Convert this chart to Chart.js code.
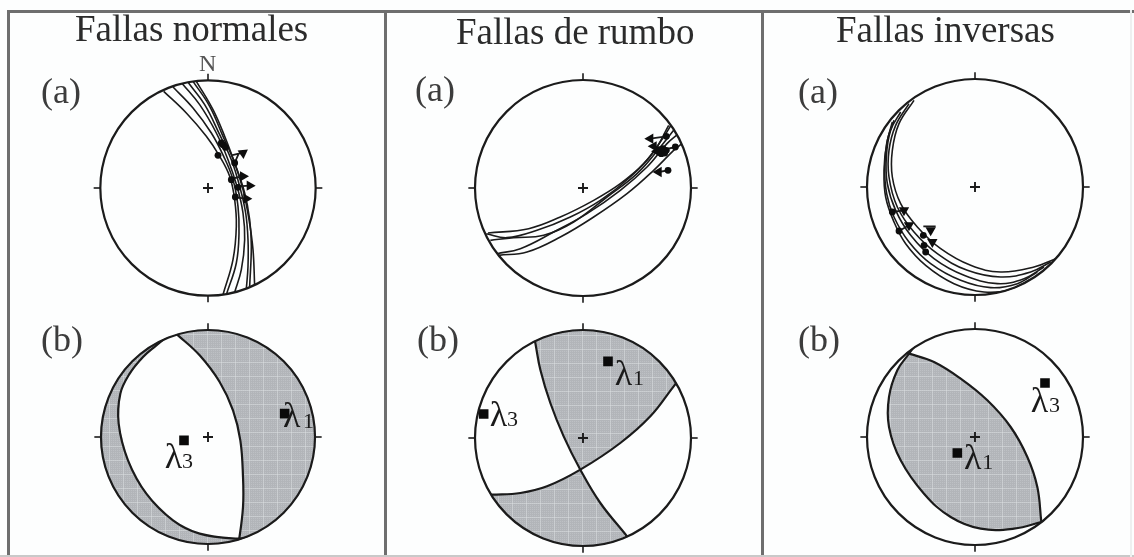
<!DOCTYPE html>
<html lang="es">
<head>
<meta charset="utf-8">
<title>Fallas</title>
<script src="https://cdn.jsdelivr.net/npm/chart.js@4"></script>
<style>
html,body{margin:0;padding:0;background:#fdfefe;overflow:hidden}
#fig{position:relative;width:1134px;height:557px;filter:blur(.45px);font-family:"Liberation Serif",serif;color:#2b2b2b;overflow:hidden}
#fig canvas{position:absolute}
.f{position:absolute;background:#6e6e6e}
.t{position:absolute;white-space:nowrap;line-height:1;transform:translateY(-.891em)}
</style>
</head>
<body>
<div id="fig"></div>
<script>
// Stereonet coordinates: origin at net centre, primitive radius about 324 units.
const titles = ["Fallas normales", "Fallas de rumbo", "Fallas inversas"];
const panelLetters = ["(a)", "(b)"];

// Panel (a): fault traces
const a1Traces = [
  [[-133,290],[-65,225],[-5,155],[35,95],[65,35],[80,-35],[85,-115],[75,-215],[45,-320]],
  [[-105,303],[-45,240],[10,165],[47,95],[75,25],[90,-55],[93,-135],[85,-225],[55,-320]],
  [[-77,313],[-25,250],[25,165],[60,85],[87,5],[105,-75],[110,-155],[100,-245],[80,-313]],
  [[-60,317],[-10,250],[35,160],[70,85],[95,5],[113,-75],[120,-155],[120,-235],[115,-303]],
  [[-45,320],[5,245],[45,155],[80,75],[105,-5],[123,-95],[135,-185],[140,-295]],
  [[-35,320],[15,235],[50,155],[80,75],[110,-15],[125,-95],[130,-175],[125,-295]]
];
const a2Traces = [
  [[-290,-137],[-228,-149],[-138,-127],[-38,-87],[52,-37],[142,33],[212,108],[257,188]],
  [[-278,-157],[-208,-149],[-118,-142],[-28,-102],[72,-27],[162,43],[232,123],[272,173]],
  [[-258,-197],[-188,-182],[-88,-132],[12,-77],[112,-7],[192,63],[252,133],[287,163]],
  [[-253,-202],[-168,-192],[-68,-147],[32,-87],[132,-17],[212,53],[272,113],[297,133]],
  [[-285,-135],[-163,-122],[-68,-87],[32,-37],[112,13],[182,73],[242,153],[268,195]]
];
const a3Traces = [
  [[-183,260],[-228,190],[-248,110],[-248,30],[-223,-50],[-173,-120],[-103,-185],[-13,-235],[77,-255],[177,-240],[242,-215]],
  [[-198,250],[-238,185],[-258,110],[-258,30],[-233,-60],[-183,-135],[-113,-200],[-23,-250],[77,-270],[167,-255],[227,-225]],
  [[-223,225],[-253,170],[-266,90],[-263,10],[-238,-70],[-193,-145],[-123,-215],[-33,-265],[67,-290],[147,-275],[207,-240]],
  [[-243,200],[-263,140],[-271,60],[-265,-20],[-243,-90],[-198,-165],[-133,-230],[-43,-280],[47,-302],[127,-290],[187,-255]],
  [[-248,195],[-265,130],[-273,50],[-268,-30],[-243,-105],[-208,-170],[-148,-235],[-63,-290],[27,-315],[107,-308],[162,-280]]
];

// Panel (a): striae dots, arrow heads and arrow rotations
const a1Dots = [[30,98],[80,75],[70,25],[90,2],[82,-27],[45,130],[52,122],[40,135]];
const a1Heads = [[105,105],[105,35],[125,7],[115,-32]];
const a1Rot = [55,90,90,90];
const a1Stems = [[[80,75],[92,103]],[[70,98],[108,107]],[[80,30],[105,35]],[[90,5],[125,7]],[[82,-28],[115,-32]]];
const a2Dots = [[250,155],[277,123],[255,53],[237,108],[250,113],[225,115],[235,103],[228,108],[245,105],[240,118]];
const a2Heads = [[202,148],[222,110],[227,48],[212,125]];
const a2Rot = [-90,-90,-90,-90];
const a2Stems = [[[202,148],[250,155]],[[222,110],[277,123]],[[227,48],[255,53]]];
const a3Dots = [[-248,-75],[-228,-132],[-155,-145],[-148,-195],[-153,-175]];
const a3Heads = [[-213,-70],[-198,-115],[-133,-130],[-128,-165]];
const a3Rot = [180,180,180,180];
const a3Stems = [[[-155,-118],[-118,-118]],[[-248,-75],[-213,-70]],[[-228,-132],[-198,-115]]];

// Panel (b): nodal planes
const b1PlaneRight = [[-125,335],[-90,305],[-25,245],[35,165],[75,80],[97,-10],[105,-120],[105,-210],[93,-310],[85,-350]];
const b1PlaneLeft = [[-125,300],[-155,275],[-195,240],[-235,190],[-263,130],[-268,40],[-240,-70],[-185,-170],[-105,-250],[-25,-290],[90,-305],[140,-300]];
const b2PlaneA = [[-150,320],[-143,285],[-128,205],[-98,105],[-58,5],[-8,-95],[52,-195],[132,-295],[150,-320]];
const b2PlaneB = [[300,190],[272,155],[202,65],[112,-15],[-8,-95],[-108,-145],[-188,-165],[-273,-170],[-320,-172]];
const b3PlaneUpper = [[-250,265],[-198,250],[-123,225],[-43,175],[37,110],[107,30],[157,-60],[187,-150],[199,-255],[205,-300]];
const b3PlaneLower = [[-170,290],[-198,250],[-233,200],[-258,120],[-258,30],[-223,-70],[-153,-170],[-73,-240],[17,-275],[117,-275],[199,-255],[250,-240]];

// Panel (b): principal axes
const b1Axes = [[230,70],[-72,-10]];
const b2Axes = [[75,230],[-298,72]];
const b3Axes = [[-53,-48],[210,162]];
const b1Labels = [["λ",225,30,"1",285,28],["λ",-130,-92,"3",-78,-92]];
const b2Labels = [["λ",95,160,"1",150,158],["λ",-280,35,"3",-228,35]];
const b3Labels = [["λ",-33,-95,"1",22,-97],["λ",167,75,"3",222,75]];

const crossArms = [[[-15,0],[15,0]],[[0,-15],[0,15]]];
const rimTickDirs = [[0,1],[1,0],[0,-1],[-1,0]];
const INK = "#1b1b1b";

function pts(a){return a.map(p=>({x:p[0],y:p[1]}));}
function gapped(segs){const o=[];segs.forEach(s=>{o.push(...pts(s),{x:NaN,y:NaN});});return o;}

// screen-tone used by the shaded quadrants
const tile=document.createElement("canvas");tile.width=tile.height=14;
(function(){const c=tile.getContext("2d");c.fillStyle="#bdc0c4";c.fillRect(0,0,14,14);
  c.fillStyle="#b2b5b9";for(let i=0;i<14;i+=2){c.fillRect(i,0,1,14);c.fillRect(0,i,14,1);}
  c.fillStyle="rgba(220,223,226,.5)";c.fillRect(0,5,14,1);c.fillRect(9,0,1,14);})();
const tone=document.createElement("canvas").getContext("2d").createPattern(tile,"repeat");

function traceSet(list){return list.map(t=>({data:pts(t),showLine:true,tension:.4,borderColor:INK,borderWidth:1.6,pointRadius:0,fill:false}));}
function planeSet(list){return list.map(t=>({data:pts(t),showLine:true,tension:.4,borderColor:INK,borderWidth:2.2,pointRadius:0,fill:false}));}
function shade(poly){return {data:pts(poly),showLine:true,tension:0,borderWidth:0,borderColor:"transparent",backgroundColor:tone,fill:"shape",pointRadius:0};}
function dots(a,r){return {data:pts(a),showLine:false,pointStyle:"circle",pointRadius:r,pointBackgroundColor:"#0d0d0d",pointBorderWidth:0};}
function heads(a,rot){return {data:pts(a),showLine:false,pointStyle:"triangle",pointRadius:6,pointRotation:rot,pointBackgroundColor:"#0d0d0d",pointBorderWidth:0};}
function stems(a){return {data:gapped(a),showLine:true,tension:0,borderColor:INK,borderWidth:1.8,pointRadius:0,fill:false};}
function squares(a){return {data:pts(a),showLine:false,pointStyle:"rect",pointRadius:6.8,pointBackgroundColor:"#0a0a0a",pointBorderWidth:0};}
function cross(){return {data:gapped(crossArms),showLine:true,tension:0,borderColor:INK,borderWidth:1.9,pointRadius:0,fill:false};}

const netPlugin={id:"net",
  beforeDatasetsDraw(ch){const s=ch.options.plugins.net,c=ch.ctx,x=ch.scales.x,y=ch.scales.y;
    c.save();c.beginPath();c.arc(x.getPixelForValue(0),y.getPixelForValue(0),Math.abs(x.getPixelForValue(s.radius+2)-x.getPixelForValue(0)),0,Math.PI*2);c.clip();},
  afterDatasetsDraw(ch){const s=ch.options.plugins.net,c=ch.ctx,x=ch.scales.x,y=ch.scales.y;
    c.restore();
    const cx=x.getPixelForValue(0),cy=y.getPixelForValue(0);
    c.strokeStyle=INK;c.lineWidth=2.2;
    c.beginPath();c.arc(cx,cy,Math.abs(x.getPixelForValue(s.radius)-cx),0,Math.PI*2);c.stroke();
    c.lineWidth=1.6;
    rimTickDirs.forEach(d=>{c.beginPath();
      c.moveTo(x.getPixelForValue(d[0]*s.radius),y.getPixelForValue(d[1]*s.radius));
      c.lineTo(x.getPixelForValue(d[0]*(s.radius+20)),y.getPixelForValue(d[1]*(s.radius+20)));c.stroke();});
    c.fillStyle="#1a1a1a";c.textBaseline="alphabetic";c.textAlign="left";
    (s.labels||[]).forEach(l=>{
      c.font='36px "Liberation Serif"';c.fillText(l[0],x.getPixelForValue(l[1]),y.getPixelForValue(l[2]));
      c.font='22px "Liberation Serif"';c.fillText(l[3],x.getPixelForValue(l[4]),y.getPixelForValue(l[5]));});
  }};

const fig=document.getElementById("fig");
function makeNet(cx,cy,radius,sets,labels){
  const cv=document.createElement("canvas");cv.width=cv.height=244;
  cv.style.left=(cx-122)+"px";cv.style.top=(cy-122)+"px";fig.appendChild(cv);
  sets.forEach((d,i)=>{d.order=sets.length-i;});
  new Chart(cv,{type:"scatter",data:{datasets:sets},plugins:[netPlugin],options:{
    responsive:false,animation:false,events:[],layout:{padding:0,autoPadding:false},
    scales:{x:{type:"linear",min:-366,max:366,display:false},y:{type:"linear",min:-366,max:366,display:false}},
    plugins:{legend:{display:false},tooltip:{enabled:false},net:{radius:radius,labels:labels}}}});
}

makeNet(208.3,188.4,323,[...traceSet(a1Traces),stems(a1Stems),dots(a1Dots,3.4),heads(a1Heads,a1Rot),cross()]);
makeNet(582.7,187.7,324,[...traceSet(a2Traces),stems(a2Stems),dots(a2Dots,3.4),heads(a2Heads,a2Rot),cross()]);
makeNet(975,186.7,324,[...traceSet(a3Traces),stems(a3Stems),dots(a3Dots,3.4),heads(a3Heads,a3Rot),cross()]);

makeNet(208.3,436.7,321,[
  shade(b1PlaneRight.concat([[450,-400],[450,400]])),
  shade(b1PlaneLeft.concat([[110,-420],[-450,-400],[-450,400],[-190,340]])),
  ...planeSet([b1PlaneRight,b1PlaneLeft]),cross(),squares(b1Axes)],b1Labels);
makeNet(582.7,438.3,324,[
  shade(b2PlaneA.slice(0,6).concat(b2PlaneB.slice(0,4).reverse(),[[400,230],[450,500]])),
  shade(b2PlaneA.slice(5).concat([[170,-420],[-200,-500],[-400,-250]],b2PlaneB.slice(5).reverse())),
  ...planeSet([b2PlaneA,b2PlaneB]),cross(),squares(b2Axes)],b2Labels);
makeNet(975,436.7,324,[
  shade(b3PlaneUpper.concat(b3PlaneLower.slice().reverse())),
  ...planeSet([b3PlaneUpper,b3PlaneLower]),cross(),squares(b3Axes)],b3Labels);

// Frame
[[7,10,1127,2.5,"#6e6e6e"],[7,10,2.5,547,"#6e6e6e"],[384,10,2.5,547,"#6e6e6e"],[761,10,2.5,547,"#6e6e6e"],
 [0,554.5,1134,2.5,"#c9c9c9"],[1130,10,1.5,547,"#eef0f0"]].forEach(r=>{
  const d=document.createElement("div");d.className="f";
  d.style.cssText="left:"+r[0]+"px;top:"+r[1]+"px;width:"+r[2]+"px;height:"+r[3]+"px;background:"+r[4];fig.appendChild(d);});

// Text
function txt(s,x,base,size,col){const d=document.createElement("div");d.className="t";d.textContent=s;
  d.style.left=x+"px";d.style.top=base+"px";d.style.fontSize=size+"px";if(col)d.style.color=col;fig.appendChild(d);}
txt(titles[0],75,43,37);txt(titles[1],456,45.5,37);txt(titles[2],836,44,37);
txt(panelLetters[0],41,105,36,"#3c3c3c");txt(panelLetters[0],415,103,36,"#3c3c3c");txt(panelLetters[0],798,105,36,"#3c3c3c");
txt(panelLetters[1],41,353,36,"#3c3c3c");txt(panelLetters[1],417,353,36,"#3c3c3c");txt(panelLetters[1],798,353,36,"#3c3c3c");
txt("N",199,72,24,"#555");
</script>
</body>
</html>
